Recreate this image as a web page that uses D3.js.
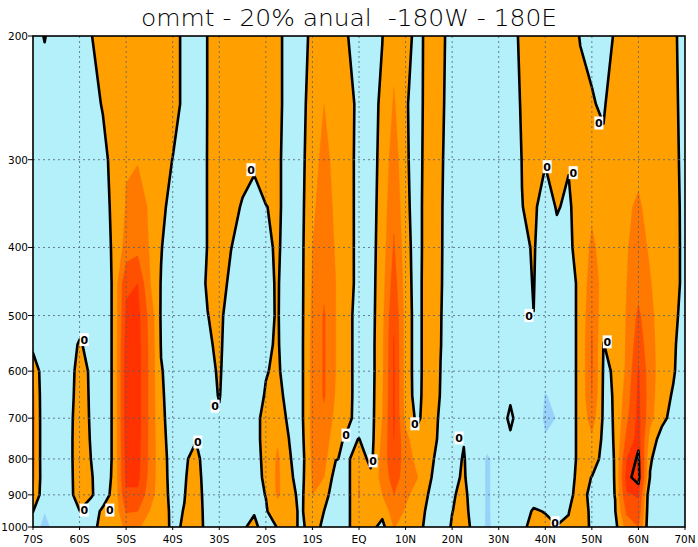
<!DOCTYPE html>
<html><head><meta charset="utf-8">
<script src="https://cdn.jsdelivr.net/npm/d3@7"></script>
<style>body{margin:0;background:#fff} svg text{font-family:"DejaVu Sans",sans-serif}</style>
</head><body><svg id="c" width="698" height="547"></svg>
<script>
// latitude columns (deg, S negative)
const lats = [-70,-67.5,-65,-62.5,-60,-57.5,-55,-52.5,-50,-47.5,-45,-42.5,-40,-37.5,-35,-32.5,-30,-27.5,-25,-22.5,-20,-17.5,-15,-12.5,-10,-7.5,-5,-2.5,0,2.5,5,7.5,10,12.5,15,17.5,20,22.5,25,27.5,30,32.5,35,37.5,40,42.5,45,47.5,50,52.5,55,57.5,60,62.5,65,67.5,70];
// pressure levels (hPa)
const levels = [200,250,300,350,400,450,500,550,600,650,700,750,800,850,900,950,1000];
// omega values, one array per latitude column, ordered by levels
const omega = [
 [-0.4,-0.5,-0.5,-0.5,-0.5,-0.4,-0.3,-0.36,0.8,1.3,1.4,1.4,1.4,1.3,0.9,0.02,-0.6],
 [0.05,-0.5,-0.5,-0.5,-0.5,-0.5,-0.5,-0.6,-0.7,-0.9,-0.9,-0.9,-0.9,-0.8,-0.7,-0.98,-1.25],
 [-0.5,-0.5,-0.5,-0.5,-0.5,-0.5,-0.5,-0.5,-0.6,-0.6,-0.6,-0.6,-0.6,-0.6,-0.6,-0.7,-0.71],
 [-0.5,-0.5,-0.5,-0.5,-0.5,-0.5,-0.5,-0.45,-0.64,-0.6,-0.5,-0.45,-0.45,-0.5,-0.4,-0.4,-0.6],
 [-0.5,-0.5,-0.5,-0.5,-0.5,-0.5,-0.49,0.1,0.5,0.6,0.7,0.7,0.7,0.7,0.5,-0.03,-0.5],
 [-0.05,-0.4,-0.5,-0.5,-0.5,-0.5,-0.5,-0.3,-0.19,-0.18,-0.16,-0.1,-0.02,0.1,0.08,-0.4,-0.4],
 [0.6,0.08,-0.35,-0.5,-0.5,-0.9,-0.9,-0.9,-0.9,-0.9,-0.9,-0.9,-0.9,-0.7,-0.4,0.15,0.4],
 [0.7,0.6,0.45,0.35,0.22,0.3,0.3,0.3,0.3,0.3,0.3,0.3,0.3,0.3,0.3,0.35,0.4],
 [0.7,0.8,0.95,1.05,1.35,2.9,3.1,3.4,3.45,3.45,3.45,3.4,3.3,3.25,2.8,2.1,1.2],
 [0.7,0.8,0.95,1.4,1.7,3.0,3.3,3.4,3.45,3.45,3.45,3.4,3.3,3.25,2.8,2.0,1.1],
 [0.7,0.7,0.7,0.9,0.95,1.1,1.7,1.8,1.8,1.8,1.8,1.8,1.8,1.7,1.5,1.0,0.7],
 [0.6,0.6,0.4,0.25,0.05,-0.05,-0.1,-0.05,0.05,0.1,0.15,0.22,0.3,0.32,0.35,0.4,0.35],
 [0.4,0.4,-0.02,-0.35,-0.55,-0.5,-0.5,-0.4,-0.3,-0.3,-0.3,-0.3,-0.29,-0.27,-0.24,-0.19,-0.15],
 [-0.23,-0.23,-0.4,-0.5,-0.5,-0.5,-0.5,-0.5,-0.5,-0.5,-0.5,-0.3,-0.14,-0.08,-0.03,0.03,0.08],
 [-0.5,-0.5,-0.5,-0.5,-0.5,-0.5,-0.5,-0.5,-0.5,-0.5,-0.5,-0.05,0.3,0.4,0.45,0.5,0.5],
 [0.02,0.02,0.03,0.03,0.03,0.12,-0.02,-0.15,-0.3,-0.35,-0.4,-0.45,-0.58,-0.5,-0.42,-0.38,-0.33],
 [0.5,0.5,0.5,0.45,0.4,0.35,0.3,0.2,0.12,0.05,-0.12,-0.3,-0.4,-0.4,-0.4,-0.4,-0.4],
 [0.5,0.5,0.4,0.3,0.02,-0.18,-0.6,-0.6,-0.6,-0.6,-0.6,-0.5,-0.5,-0.5,-0.5,-0.5,-0.5],
 [0.5,0.5,0.35,-0.085,-0.35,-0.5,-0.6,-0.6,-0.6,-0.6,-0.6,-0.5,-0.5,-0.45,-0.4,-0.3,-0.05],
 [0.5,0.5,0.15,-0.3,-0.5,-0.55,-0.6,-0.6,-0.5,-0.4,-0.2,-0.2,-0.25,-0.3,-0.3,-0.033,0.1],
 [0.5,0.5,0.4,-0.02,-0.15,-0.16,-0.15,-0.12,-0.05,0.076,0.2,0.2,0.18,0.15,0.026,-0.1,-0.2],
 [0.2,0.2,0.15,0.12,0.1,0.06,0.05,0.08,0.15,0.4,0.6,0.9,1.15,1.2,1.15,0.6,0.02],
 [-0.31,-0.31,-0.35,-0.28,-0.35,-0.4,-0.4,-0.5,-0.5,-0.45,-0.22,-0.01,0.1,0.2,0.4,0.5,0.5],
 [-0.3,-0.3,-0.3,-0.3,-0.3,-0.3,-0.3,-0.3,-0.3,-0.3,-0.3,-0.4,-0.5,-0.4,-0.28,-0.2,-0.2],
 [0.18,0.4,0.6,0.8,1.0,1.1,1.2,1.3,1.3,1.3,1.3,1.3,1.2,1.1,1.0,0.8,0.4],
 [0.7,1.0,1.3,1.5,1.7,1.8,2.1,2.1,2.1,2.1,1.8,1.6,1.3,1.0,0.4,-0.01,-0.2],
 [0.5,0.6,0.7,0.8,0.9,1.0,1.0,1.0,1.0,0.9,0.7,0.3,0.05,-0.47,-0.6,-0.5,-0.4],
 [0.03,0.6,0.5,0.5,0.5,0.5,0.3,0.3,0.3,0.3,0.25,-0.18,-0.17,-0.28,-0.3,-0.23,-0.17],
 [-0.4,-0.4,-0.4,-0.4,-0.4,-0.4,-0.4,-0.4,-0.4,-0.4,-0.4,0.02,0.6,1.0,1.05,0.8,0.6],
 [-0.35,-0.3,-0.4,-0.4,-0.4,-0.4,-0.4,-0.4,-0.4,-0.4,-0.4,-0.4,-0.3,0.3,0.4,0.3,0.3],
 [-0.02,0.15,0.3,0.4,0.5,0.6,0.7,0.8,0.8,0.9,1.0,1.2,1.4,1.3,1.0,0.3,-0.3],
 [0.7,1.1,1.5,1.8,2.1,2.5,2.9,3.05,3.1,3.1,3.1,3.0,2.8,2.5,2.0,1.5,1.05],
 [0.6,0.15,0.2,0.3,0.45,0.5,0.6,0.6,0.6,0.6,0.7,1.3,1.5,1.5,1.2,0.9,0.6],
 [-0.5,-0.55,-0.55,-0.55,-0.55,-0.5,-0.5,-0.5,-0.5,-0.45,-0.2,0.4,0.7,1.05,0.6,0.4,0.25],
 [0.5,0.6,0.7,0.8,0.8,0.8,0.8,0.8,0.8,0.8,0.55,0.7,0.39,0.15,-0.05,-0.2,-0.25],
 [0.2,0.15,0.1,0.07,0.06,0.05,0.03,0.02,-0.01,-0.05,-0.15,-0.3,-0.5,-0.5,-0.5,-0.4,-0.3],
 [-0.31,-0.33,-0.35,-0.35,-0.33,-0.33,-0.35,-0.35,-0.35,-0.35,-0.35,-0.3,-0.15,-0.1,-0.05,-0.01,0.05],
 [-0.4,-0.4,-0.4,-0.4,-0.4,-0.4,-0.4,-0.4,-0.4,-0.4,-0.3,-0.02,0.03,0.05,0.12,0.16,0.2],
 [-0.4,-0.4,-0.4,-0.4,-0.4,-0.4,-0.4,-0.4,-0.4,-0.4,-0.4,-0.4,-0.3,-0.3,-0.28,-0.25,-0.18],
 [-0.4,-0.4,-0.4,-0.4,-0.4,-0.4,-0.45,-0.5,-0.5,-0.5,-0.55,-0.6,-1.15,-1.15,-1.15,-1.15,-1.2],
 [-0.4,-0.4,-0.4,-0.4,-0.4,-0.4,-0.45,-0.5,-0.5,-0.1,-0.023,-0.1,-0.6,-0.6,-0.6,-0.6,-0.6],
 [-0.28,-0.4,-0.4,-0.3,-0.3,-0.3,-0.3,-0.3,-0.2,-0.006,0.008,-0.006,-0.2,-0.3,-0.3,-0.3,-0.4],
 [0.15,0.08,0.015,-0.01,-0.15,-0.2,-0.3,-0.3,-0.3,-0.1,-0.023,-0.1,-0.3,-0.3,-0.3,-0.2,-0.1],
 [0.4,0.4,0.3,0.12,0.06,0.03,-0.005,-0.3,-0.4,-0.5,-0.5,-0.5,-0.5,-0.4,-0.2,0.05,0.15],
 [0.4,0.4,0.05,-0.3,-0.4,-0.45,-0.5,-0.5,-0.6,-1.05,-1.15,-0.95,-0.6,-0.4,-0.3,-0.02,0.12],
 [0.4,0.4,0.3,0.05,-0.2,-0.4,-0.5,-0.5,-0.6,-0.8,-0.98,-0.8,-0.6,-0.4,-0.3,-0.15,0.02],
 [0.5,0.5,0.06,-0.12,-0.15,-0.28,-0.28,-0.28,-0.28,-0.28,-0.28,-0.28,-0.28,-0.28,-0.28,-0.03,0.1],
 [-0.05,0.3,0.4,0.4,0.3,0.16,0.16,0.16,0.16,0.16,0.16,0.16,0.16,0.25,0.45,0.5,0.4],
 [-0.3,0.1,0.6,0.8,1.2,1.6,1.9,2.1,2.1,2.0,1.5,0.8,0.4,-0.02,-0.31,-0.2,-0.13],
 [-0.3,-0.19,0.35,0.6,0.6,0.6,0.3,-0.02,-0.1,-0.15,-0.15,-0.2,-0.25,-0.3,-0.35,-0.35,-0.35],
 [0.07,0.9,0.8,0.8,0.7,0.6,0.5,0.3,0.06,0.05,0.04,0.04,0.03,0.03,0.02,-0.05,-0.3],
 [0.5,0.8,0.85,0.9,0.95,1.0,1.05,1.1,1.2,1.5,1.8,2.3,3.0,3.4,2.9,2.2,1.4],
 [0.6,0.7,0.8,1.1,1.3,1.6,2.2,2.6,3.1,3.2,3.3,3.4,3.75,3.9,3.1,2.6,2.0],
 [0.6,0.6,0.7,0.75,0.9,1.05,1.2,1.3,1.4,1.4,1.3,0.6,0.1,-0.05,-0.85,-0.9,-0.9],
 [0.6,0.6,0.6,0.6,0.6,0.6,0.6,0.6,0.55,0.4,0.3,-0.42,-0.5,-0.5,-0.5,-0.5,-0.5],
 [0.3,0.3,0.3,0.3,0.3,0.3,0.3,0.2,0.1,-0.1,-0.37,-0.5,-0.5,-0.5,-0.5,-0.5,-0.5],
 [-0.67,-0.45,-0.33,-0.25,-0.23,-0.23,-0.45,-0.7,-0.6,-0.6,-0.6,-0.6,-0.6,-0.6,-0.6,-0.6,-0.6]
];
// shading levels and colours
const fillLevels = [-1, 0.01, 1, 2, 3];
const fillColors = ["#b4f0fa", "#ffa000", "#ff7800", "#ff5000", "#ff3200"];
const belowColor = "#96d2fa";
const lineLevels = [0, 3.6];
// tick labels
const latTicks = [-70,-60,-50,-40,-30,-20,-10,0,10,20,30,40,50,60,70];
const latLabels = ["70S","60S","50S","40S","30S","20S","10S","EQ","10N","20N","30N","40N","50N","60N","70N"];
const presTicks = [200,300,400,500,600,700,800,900,1000];
// contour label positions [lat, hPa]
const zeroLabels = [[-59,541],[-59,946],[-53.5,946],[-34.6,757],[-30.9,673],[-23.2,310],[-2.8,740],[3.0,805],[12.0,713],[21.5,747],[36.5,500],[40.4,307],[46.0,313],[51.5,266],[53.3,545],[42.1,986]];
const title = "ommt - 20% anual  -180W - 180E";

const L=33, R=685, T=36, B=527;
const x = d3.scaleLinear().domain([-70,70]).range([L,R]);
const y = d3.scaleLog().domain([200,1000]).range([T,B]);
const n = lats.length, m = levels.length;
const values = new Array(n*m);
for (let j=0;j<m;j++) for (let i=0;i<n;i++) values[j*n+i] = omega[i][j];
const gx = d3.scaleLinear().domain(d3.range(n)).range(lats.map(d=>x(d))).clamp(true);
const gy = d3.scaleLinear().domain(d3.range(m)).range(levels.map(d=>y(d))).clamp(true);
const cl = (v,a,b)=>Math.max(a,Math.min(b,v));
const tp = p => [gx(p[0]-0.5), gy(p[1]-0.5)];
const contours = d3.contours().size([n,m]);
const geo = d3.geoPath();

const svg = d3.select("#c");
svg.append("defs").append("clipPath").attr("id","pc").append("rect")
  .attr("x",L).attr("y",T).attr("width",R-L).attr("height",B-T);
const g = svg.append("g").attr("clip-path","url(#pc)");
g.append("rect").attr("x",L).attr("y",T).attr("width",R-L).attr("height",B-T).attr("fill",belowColor);
fillLevels.forEach((t,k)=>{
  const c = contours.contour(values,t);
  const mp = {type:"MultiPolygon", coordinates: c.coordinates.map(poly=>poly.map(ring=>ring.map(tp)))};
  g.append("path").attr("d",geo(mp)).attr("fill",fillColors[k]).attr("fill-rule","evenodd")
   .attr("stroke",fillColors[k]).attr("stroke-width",0.4);
});
// grid
const grid = svg.append("g").attr("stroke","#4e6078").attr("stroke-width",1).attr("stroke-dasharray","2,3").attr("opacity",0.8);
latTicks.slice(1,-1).forEach(v=>grid.append("line").attr("x1",x(v)).attr("x2",x(v)).attr("y1",T).attr("y2",B));
presTicks.slice(1,-1).forEach(v=>grid.append("line").attr("x1",L).attr("x2",R).attr("y1",y(v)).attr("y2",y(v)));
// contour lines
lineLevels.forEach(t=>{
  const c = contours.contour(values,t);
  let d = "";
  c.coordinates.forEach(poly=>poly.forEach(ring=>{
    let pen = false;
    for (let k=0;k<ring.length-1;k++){
      const a = ring[k], b = ring[k+1];
      const ax = cl(a[0]-0.5,0,n-1), ay = cl(a[1]-0.5,0,m-1), bx = cl(b[0]-0.5,0,n-1), by = cl(b[1]-0.5,0,m-1);
      const edge = (ax===0&&bx===0)||(ax===n-1&&bx===n-1)||(ay===0&&by===0)||(ay===m-1&&by===m-1);
      if (edge){ pen=false; continue; }
      const pa = tp(a), pb = tp(b);
      if (!pen){ d += "M"+pa[0].toFixed(2)+","+pa[1].toFixed(2); pen = true; }
      d += "L"+pb[0].toFixed(2)+","+pb[1].toFixed(2);
    }
  }));
  g.append("path").attr("d",d).attr("fill","none").attr("stroke","#000").attr("stroke-width",2.6)
   .attr("stroke-linejoin","round").attr("stroke-linecap","round");
});
// contour labels
const lab = svg.append("g");
zeroLabels.forEach(p=>{
  const cx = x(p[0]), cy = y(p[1]);
  lab.append("rect").attr("x",cx-4.5).attr("y",cy-6.5).attr("width",9).attr("height",13).attr("fill","#fff");
  lab.append("text").attr("x",cx).attr("y",cy+4).attr("text-anchor","middle").attr("font-size",11)
    .attr("font-weight","bold").text("0");
});
// frame
svg.append("rect").attr("x",L).attr("y",T).attr("width",R-L).attr("height",B-T)
  .attr("fill","none").attr("stroke","#000").attr("stroke-width",1.6);
// y axis
presTicks.forEach(v=>{
  svg.append("line").attr("x1",L-5).attr("x2",L).attr("y1",y(v)).attr("y2",y(v)).attr("stroke","#000");
  svg.append("text").attr("x",L-5).attr("y",y(v)+4).attr("text-anchor","end").attr("font-size",10.5).text(v);
});
// x axis
latTicks.forEach((v,i)=>{
  svg.append("line").attr("x1",x(v)).attr("x2",x(v)).attr("y1",B).attr("y2",B+3).attr("stroke","#000");
  svg.append("text").attr("x",x(v)).attr("y",B+16).attr("text-anchor","middle").attr("font-size",10.5).text(latLabels[i]);
});
svg.append("text").attr("x",349).attr("y",26).attr("text-anchor","middle").attr("font-size",23)
  .attr("font-weight",200).style("white-space","pre").attr("textLength",416).attr("lengthAdjust","spacingAndGlyphs").text(title);
</script></body></html>
